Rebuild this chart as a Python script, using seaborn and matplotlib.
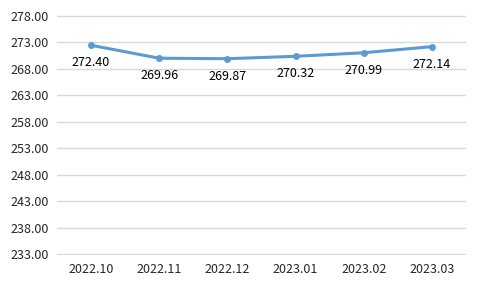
import matplotlib
matplotlib.use("Agg")
import matplotlib.pyplot as plt
import seaborn as sns
import pandas as pd

months = ["2022.10", "2022.11", "2022.12", "2023.01", "2023.02", "2023.03"]
values = [272.40, 269.96, 269.87, 270.32, 270.99, 272.14]
yticks = [233, 238, 243, 248, 253, 258, 263, 268, 273, 278]

sns.set_theme(style="white")
plt.rcParams['font.family'] = ['Noto Sans CJK SC', 'DejaVu Sans']

df = pd.DataFrame({"month": months, "value": values})
fig = plt.figure(figsize=(4.8, 2.88), dpi=100)
ax = fig.add_axes([57/480, 1 - 255/288, 409/480, 240/288])

xs = list(range(len(months)))
sns.lineplot(x=xs, y=values, ax=ax, color="#5B9BD5", linewidth=2.2,
             marker="o", markersize=5, markeredgewidth=0)
for x, v in zip(xs, values):
    ax.annotate(f"{v:.2f}", (x, v), xytext=(0, -8), textcoords="offset points",
                ha="center", va="top", fontsize=9, color="#000000")

ax.set_xlim(-0.5, len(months) - 0.5)
ax.set_ylim(232.9, 278.1)
ax.set_yticks(yticks)
ax.set_yticklabels([f"{t:.2f}" for t in yticks], fontsize=9)
ax.set_xticks(xs)
ax.set_xticklabels(months, fontsize=9)
ax.yaxis.grid(True, color="#D9D9D9", linewidth=1)
ax.xaxis.grid(False)
for s in ax.spines.values():
    s.set_visible(False)
ax.tick_params(axis="y", length=0, pad=6)
ax.tick_params(axis="x", length=0, pad=6)
ax.set_xlabel("")
ax.set_ylabel("")
fig.savefig("out.png", dpi=100)
